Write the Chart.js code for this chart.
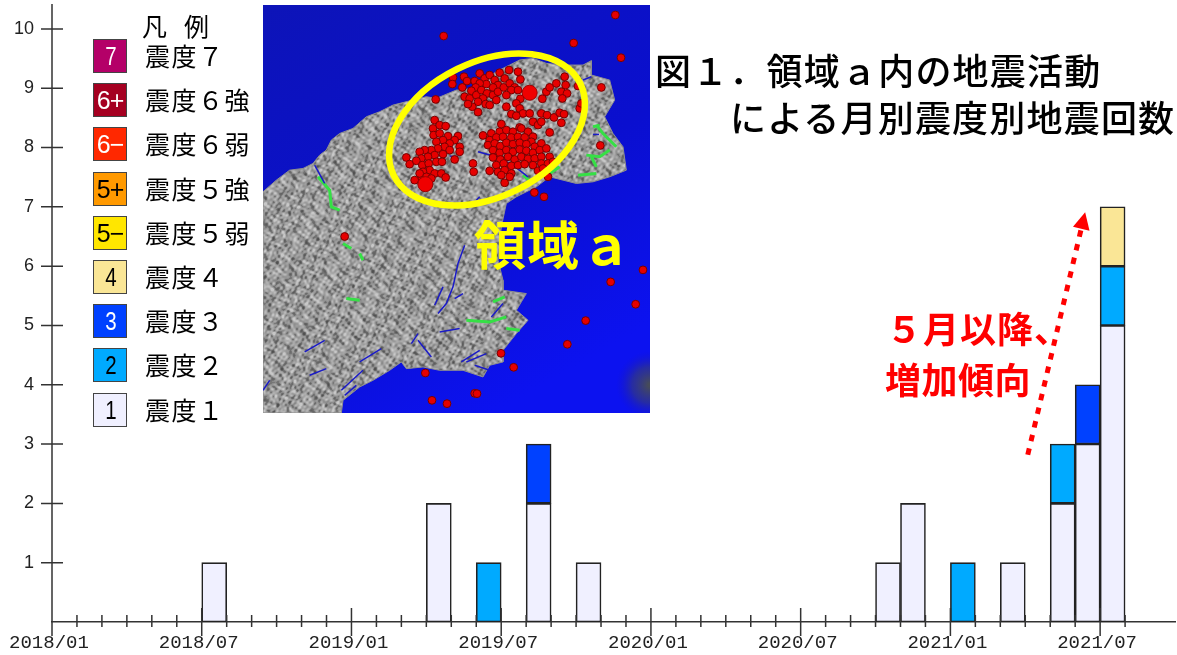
<!DOCTYPE html>
<html lang="ja">
<head>
<meta charset="utf-8">
<title>領域a内の地震活動</title>
<script src="https://cdn.jsdelivr.net/npm/chart.js@4"></script>
<style>
html, body { margin: 0; padding: 0; background: #fff; overflow: hidden; }
body { position: relative; width: 1177px; height: 655px; font-family: "Noto Sans CJK JP", sans-serif; }
canvas { position: absolute; display: block; }
#mainChart { left: 0; top: 0; }
#mapChart { left: 263px; top: 5px; filter: blur(0.5px); }
.t { position: absolute; white-space: pre; line-height: 1; }
.title { font-size: 36px; font-weight: 500; letter-spacing: 1.2px; color: #000; }
.note { font-size: 36px; font-weight: 700; color: #f00; }
.area { font-size: 52px; font-weight: 700; color: #ff0; letter-spacing: 1px; }
.leg { font-size: 25px; letter-spacing: 1.5px; color: #000; }
.sw { position: absolute; left: 93px; width: 32px; height: 32px; border: 1.5px solid #444;
      font: 25px/32px "Liberation Sans", sans-serif; text-align: center; letter-spacing: -1px; }
.sw span { display: inline-block; }
</style>
</head>
<body>
<canvas id="mainChart" width="1177" height="655"></canvas>
<canvas id="mapChart" width="387" height="408"></canvas>
<div id="legend"></div>
<div class="t title" style="left:655px;top:51px">図１．領域ａ内の地震活動</div>
<div class="t title" style="left:730px;top:98px">による月別震度別地震回数</div>
<div class="t note" style="left:886px;top:309px;letter-spacing:1px">５月以降、</div>
<div class="t note" style="left:885px;top:360px;letter-spacing:0.5px">増加傾向</div>
<div class="t area" style="left:474px;top:217px">領域ａ</div>
<script>
const months = [
  '2018/01','2018/02','2018/03','2018/04','2018/05','2018/06','2018/07','2018/08','2018/09','2018/10','2018/11','2018/12',
  '2019/01','2019/02','2019/03','2019/04','2019/05','2019/06','2019/07','2019/08','2019/09','2019/10','2019/11','2019/12',
  '2020/01','2020/02','2020/03','2020/04','2020/05','2020/06','2020/07','2020/08','2020/09','2020/10','2020/11','2020/12',
  '2021/01','2021/02','2021/03','2021/04','2021/05','2021/06','2021/07','2021/08','2021/09'
];
const monthLabels = ['2018/01','2018/07','2019/01','2019/07','2020/01','2020/07','2021/01','2021/07'];
const tickedMonths = 44; // tick marks stop after 2021/07

// monthly counts per intensity
const shindo1 = [0,0,0,0,0,0,1,0,0,0,0,0, 0,0,0,2,0,0,0,2,0,1,0,0, 0,0,0,0,0,0,0,0,0,1,2,0, 0,0,1,0,2,3,5,0,0];
const shindo2 = [0,0,0,0,0,0,0,0,0,0,0,0, 0,0,0,0,0,1,0,0,0,0,0,0, 0,0,0,0,0,0,0,0,0,0,0,0, 1,0,0,0,1,0,1,0,0];
const shindo3 = [0,0,0,0,0,0,0,0,0,0,0,0, 0,0,0,0,0,0,0,1,0,0,0,0, 0,0,0,0,0,0,0,0,0,0,0,0, 0,0,0,0,0,1,0,0,0];
const shindo4 = [0,0,0,0,0,0,0,0,0,0,0,0, 0,0,0,0,0,0,0,0,0,0,0,0, 0,0,0,0,0,0,0,0,0,0,0,0, 0,0,0,0,0,0,1,0,0];

// legend, top to bottom
const legendKeys = ['7','6+','6−','5+','5−','4','3','2','1'];
const legendNames = ['震度７','震度６強','震度６弱','震度５強','震度５弱','震度４','震度３','震度２','震度１'];
const legendColors = ['#b40068','#a50021','#ff2800','#ff9900','#ffe600','#fae696','#0041ff','#00aaff','#f0f0ff'];
const legendInk = ['#fff','#fff','#fff','#000','#000','#000','#fff','#000','#000'];

// dotted arrow in chart units: month index, count
const arrowFrom = [38.6, 2.82];
const arrowTo = [40.9, 6.91];

// inset map, read in map units
const coast = [[0,575],[40,540],[80,510],[120,505],[150,490],[170,465],[190,450],[205,420],[230,400],[270,385],[310,350],[350,335],[390,315],[450,300],[490,290],[520,295],[580,270],[600,270],[640,260],[670,235],[700,215],[740,195],[770,180],[810,175],[850,190],[900,195],[960,195],[985,182],[985,225],[1040,240],[1055,300],[1025,350],[1050,400],[1080,440],[1090,510],[1040,530],[990,545],[940,550],[860,530],[820,560],[760,590],[730,610],[715,680],[705,780],[720,840],[720,870],[790,880],[760,930],[795,960],[760,1000],[720,1050],[720,1085],[680,1095],[660,1130],[600,1110],[530,1110],[480,1100],[430,1105],[415,1085],[380,1110],[330,1140],[290,1160],[240,1200],[235,1238],[0,1238],[0,575]];
const faults = [
  [[155,495],[185,550]], [[645,455],[700,470],[750,495],[795,530]], [[990,403],[1008,403]], [[560,468],[585,470]],
  [[605,735],[585,790],[570,860],[550,910],[525,940]], [[600,880],[575,895]], [[540,860],[515,915]], [[720,910],[685,950]],
  [[355,1045],[290,1085]], [[185,1020],[125,1055]], [[300,1110],[235,1170]], [[280,1155],[245,1185]],
  [[650,1050],[595,1085]], [[670,1060],[610,1085]], [[530,995],[590,985]], [[465,1000],[445,1030]], [[465,1020],[505,1070]],
  [[190,1105],[140,1125]], [[635,1095],[680,1110]], [[20,1140],[0,1170]], [[985,230],[960,240]], [[650,590],[640,600]]
];
const greenBelts = [
  [[165,530],[200,570],[205,620],[230,630]], [[240,730],[265,745]], [[290,760],[300,780]], [[1000,375],[1020,400],[1060,440]],
  [[970,465],[1010,470],[1040,450]], [[945,525],[1000,520]], [[780,525],[810,550]], [[690,905],[725,890]],
  [[610,960],[680,965],[730,950]], [[250,895],[290,900]], [[860,520],[890,500]], [[730,985],[770,990]],
  [[990,380],[1010,375]], [[985,470],[1000,500]]
];
const quakes = [
  [1057,45],[542,108],[932,129],[1074,173],[1015,262],[1012,436],[814,577],[843,590],[245,709],[1140,809],[1043,845],[1118,912],[968,961],[913,1032],[714,1059],[752,1101],[487,1118],[635,1179],[642,1180],[507,1200],[552,1210],
  [570,232],[568,252],[603,230],[598,262],[612,243],[635,243],[650,220],[665,235],[680,225],[695,240],[710,218],[725,235],[738,210],[705,255],[690,262],[670,252],[650,250],[638,262],[625,272],[605,290],[620,295],[640,285],[655,270],[672,280],[690,285],[705,275],[722,262],[740,250],[755,262],[765,215],[772,238],[745,270],[730,285],[660,295],[645,305],[628,320],[668,312],[680,315],[700,300],[615,312],[518,298],
  [765,270],[772,296],[760,310],[770,325],[730,320],[745,342],[780,340],[760,347],[800,340],[645,336],
  [838,296],[850,275],[860,262],[880,250],[905,230],[908,255],[895,275],[912,280],[898,295],[945,258],[950,325],[955,310],[835,340],[852,345],[873,352],[890,338],[903,342],[895,368],[810,365],[825,375],[835,365],[860,397],
  [715,372],[770,382],[685,400],[710,395],[730,390],[750,395],[775,385],[795,395],[810,410],[660,406],
  [680,420],[700,412],[720,410],[745,412],[765,410],[785,412],[805,425],
  [675,435],[695,430],[712,438],[730,428],[750,432],[770,428],[790,432],[815,440],[835,430],
  [690,450],[710,458],[730,450],[750,455],[770,448],[790,452],[810,458],[830,450],[850,445],
  [690,472],[712,478],[735,470],[755,478],[775,470],[795,476],[815,475],[835,470],[860,470],
  [700,495],[722,490],[745,497],[765,495],[785,492],[810,495],[835,490],[855,490],[870,485],
  [680,512],[705,515],[725,510],[745,520],[825,512],[840,505],[715,525],[740,530],[725,548],[855,530],
  [515,360],[510,385],[530,375],[548,378],[512,405],[530,400],[555,408],[585,408],[575,420],[540,420],[520,425],[560,430],[590,440],[590,455],[545,440],[525,445],[505,450],[485,450],[470,455],[560,450],[540,462],[515,465],[495,470],[475,475],[430,472],[440,492],[460,482],[478,495],[497,490],[520,485],[537,485],[575,478],[500,510],[480,515],[515,520],[535,520],[548,532],[490,530],[505,535],[475,540],[455,540],[470,520],[630,490],[632,515]
];
const bigQuakes = [[800,278],[487,552]];
const circledArea = { x: 672, y: 388, a: 312, b: 202, angle: -26.2 };

const ink = '#333';

// legend
const legendBox = document.getElementById('legend');
function addText(cls, left, top, text) {
  const el = document.createElement('div');
  el.className = 't ' + cls;
  el.style.left = left + 'px';
  el.style.top = top + 'px';
  el.textContent = text;
  legendBox.appendChild(el);
  return el;
}
addText('leg', 142, 13, '凡例').style.letterSpacing = '17px';
legendKeys.forEach((key, i) => {
  const top = 39 + i * 44.2;
  const sw = document.createElement('div');
  sw.className = 'sw';
  sw.style.top = top + 'px';
  sw.style.background = legendColors[i];
  sw.style.color = legendInk[i];
  const glyph = document.createElement('span');
  glyph.textContent = key;
  if (key.length === 1) glyph.style.transform = 'scaleX(0.82)';
  sw.appendChild(glyph);
  legendBox.appendChild(sw);
  addText('leg', 145, top + 4, legendNames[i]);
});

// ticks that cross the axes, and the dotted arrow
const crossTicks = {
  id: 'crossTicks',
  afterDraw(chart) {
    const { ctx, scales: { x, y } } = chart;
    const bin = x.getPixelForValue(1) - x.getPixelForValue(0);
    ctx.save();
    ctx.strokeStyle = ink;
    ctx.lineWidth = 1.5;
    ctx.beginPath();
    ctx.moveTo(x.left, y.top);
    ctx.lineTo(x.left, y.bottom + 11);
    for (let v = 1; v <= 10; v++) {
      const py = y.getPixelForValue(v);
      ctx.moveTo(x.left - 11, py);
      ctx.lineTo(x.left + 11, py);
    }
    for (let i = 0; i < tickedMonths; i++) {
      const px = x.getPixelForValue(i) - bin / 2;
      const major = monthLabels.includes(months[i]);
      ctx.moveTo(px, y.bottom - (major ? 14 : 7));
      ctx.lineTo(px, y.bottom + (major ? 14 : 5));
    }
    ctx.stroke();

    const ax = x.getPixelForValue(arrowFrom[0]), ay = y.getPixelForValue(arrowFrom[1]);
    const bx = x.getPixelForValue(arrowTo[0]), by = y.getPixelForValue(arrowTo[1]);
    const ang = Math.atan2(by - ay, bx - ax);
    const neckX = bx - 17 * Math.cos(ang), neckY = by - 17 * Math.sin(ang);
    ctx.strokeStyle = '#f00';
    ctx.fillStyle = '#f00';
    ctx.lineWidth = 5;
    ctx.setLineDash([6.5, 7.5]);
    ctx.beginPath();
    ctx.moveTo(ax, ay);
    ctx.lineTo(neckX, neckY);
    ctx.stroke();
    ctx.setLineDash([]);
    ctx.beginPath();
    ctx.moveTo(bx, by);
    ctx.lineTo(neckX + 8.5 * Math.sin(ang), neckY - 8.5 * Math.cos(ang));
    ctx.lineTo(neckX - 8.5 * Math.sin(ang), neckY + 8.5 * Math.cos(ang));
    ctx.closePath();
    ctx.fill();
    ctx.restore();
  }
};

function barSet(label, values, color) {
  return {
    label,
    data: values.map(v => v === 0 ? null : v),
    backgroundColor: color,
    borderColor: '#222',
    borderWidth: 1.6,
    borderSkipped: false,
    barPercentage: 1,
    categoryPercentage: 1,
    stack: 'count'
  };
}

function noAxisPadding(s) {
  s.paddingTop = s.paddingBottom = s.paddingLeft = s.paddingRight = 0;
}

new Chart(document.getElementById('mainChart'), {
  type: 'bar',
  data: {
    labels: months,
    datasets: [
      barSet('震度１', shindo1, legendColors[8]),
      barSet('震度２', shindo2, legendColors[7]),
      barSet('震度３', shindo3, legendColors[6]),
      barSet('震度４', shindo4, legendColors[5])
    ]
  },
  options: {
    responsive: false,
    animation: false,
    layout: { autoPadding: false, padding: { top: 4, right: 2 } },
    plugins: { legend: { display: false }, tooltip: { enabled: false } },
    scales: {
      x: {
        stacked: true,
        offset: true,
        afterFit(s) { s.height = 33; noAxisPadding(s); },
        grid: { display: false, drawTicks: false },
        border: { display: true, color: ink, width: 1.5 },
        ticks: {
          autoSkip: false,
          maxRotation: 0,
          minRotation: 0,
          padding: 10,
          labelOffset: -15.5,
          color: '#222',
          font: { family: '"Liberation Mono", monospace', size: 19 },
          callback(value) {
            const m = months[value];
            return monthLabels.includes(m) ? m : '';
          }
        }
      },
      y: {
        stacked: true,
        min: 0,
        max: 10.42,
        afterFit(s) { s.width = 52; noAxisPadding(s); },
        grid: { display: false, drawTicks: false },
        border: { display: false },
        ticks: {
          stepSize: 1,
          padding: 18,
          color: '#222',
          font: { family: '"Liberation Sans", sans-serif', size: 18 },
          callback(value) { return value > 0 && Number.isInteger(value) ? value : ''; }
        }
      }
    }
  },
  plugins: [crossTicks]
});

// hillshade tile for the land: fine wrinkles from a few wave vectors
const ridgeWaves = [[14,9,0.3],[-11,22,1.7],[25,-16,2.9],[36,13,4.1],[-27,33,5.3],[47,-21,0.9],[-19,51,3.3],[58,29,2.2],[-43,-37,1.1],[31,61,4.7]];
function hillTile() {
  const size = 256;
  const tile = document.createElement('canvas');
  tile.width = tile.height = size;
  const g = tile.getContext('2d');
  const img = g.createImageData(size, size);
  const w = 2 * Math.PI / size;
  for (let py = 0; py < size; py++) {
    for (let px = 0; px < size; px++) {
      const warp = 1.3 * Math.sin(w * (5 * px + 3 * py)) + Math.sin(w * (-7 * px + 9 * py));
      let h = 0;
      ridgeWaves.forEach(([kx, ky, phase], n) => {
        h += Math.sin(w * (kx * px + ky * py) + phase + warp) / (1 + n * 0.1);
      });
      const shade = Math.max(80, Math.min(200, 155 + 13 * h - (h < -1.5 ? 14 : 0)));
      const k = 4 * (py * size + px);
      img.data[k] = img.data[k + 1] = img.data[k + 2] = shade;
      img.data[k + 3] = 255;
    }
  }
  g.putImageData(img, 0, 0);
  return tile;
}
const mapCtx = document.getElementById('mapChart').getContext('2d');
const toPoints = list => list.map(p => ({ x: p[0], y: p[1] }));

const mapDecor = {
  id: 'mapDecor',
  beforeDraw(chart) {
    const { ctx, width, height } = chart;
    const sea = ctx.createLinearGradient(0, 0, width * 0.6, height);
    sea.addColorStop(0, '#0d14b8');
    sea.addColorStop(0.6, '#0a0fcf');
    sea.addColorStop(1, '#0c12f0');
    ctx.fillStyle = sea;
    ctx.fillRect(0, 0, width, height);
    const patch = ctx.createRadialGradient(width, height - 28, 2, width, height - 28, 34);
    patch.addColorStop(0, 'rgba(70,75,90,1)');
    patch.addColorStop(0.5, 'rgba(50,55,130,0.7)');
    patch.addColorStop(1, 'rgba(20,20,200,0)');
    ctx.fillStyle = patch;
    ctx.fillRect(width - 40, height - 65, 40, 65);
  },
  afterDatasetsDraw(chart) {
    const { ctx, scales: { x, y } } = chart;
    const unitX = x.getPixelForValue(1) - x.getPixelForValue(0);
    const unitY = y.getPixelForValue(1) - y.getPixelForValue(0);
    ctx.save();
    ctx.strokeStyle = '#ffff00';
    ctx.lineWidth = 6.5;
    ctx.beginPath();
    ctx.ellipse(x.getPixelForValue(circledArea.x), y.getPixelForValue(circledArea.y),
      circledArea.a * unitX, circledArea.b * Math.abs(unitY), circledArea.angle * Math.PI / 180, 0, Math.PI * 2);
    ctx.stroke();
    ctx.restore();
  }
};

new Chart(mapCtx, {
  type: 'scatter',
  data: {
    datasets: [
      { data: toPoints(bigQuakes), pointRadius: 7.5, pointBackgroundColor: '#f00000', pointBorderColor: '#a00000', pointBorderWidth: 1, order: 0 },
      { data: toPoints(quakes), pointRadius: 3.9, pointBackgroundColor: '#e60000', pointBorderColor: '#7a0000', pointBorderWidth: 1, order: 1 },
      ...faults.map(f => ({ data: toPoints(f), showLine: true, pointRadius: 0, borderColor: '#1a1ac8', borderWidth: 1.5, order: 2 })),
      ...greenBelts.map(f => ({ data: toPoints(f), showLine: true, pointRadius: 0, borderColor: '#35e045', borderWidth: 3, order: 3 })),
      { data: toPoints(coast), showLine: true, pointRadius: 0, borderColor: '#8f8f8f', borderWidth: 1, fill: 'shape', backgroundColor: mapCtx.createPattern(hillTile(), 'repeat'), order: 4 }
    ]
  },
  options: {
    responsive: false,
    animation: false,
    layout: { autoPadding: false },
    plugins: { legend: { display: false }, tooltip: { enabled: false } },
    scales: {
      x: { display: false, min: 0, max: 1161 },
      y: { display: false, min: 15, max: 1238, reverse: true }
    }
  },
  plugins: [mapDecor]
});
</script>
</body>
</html>
